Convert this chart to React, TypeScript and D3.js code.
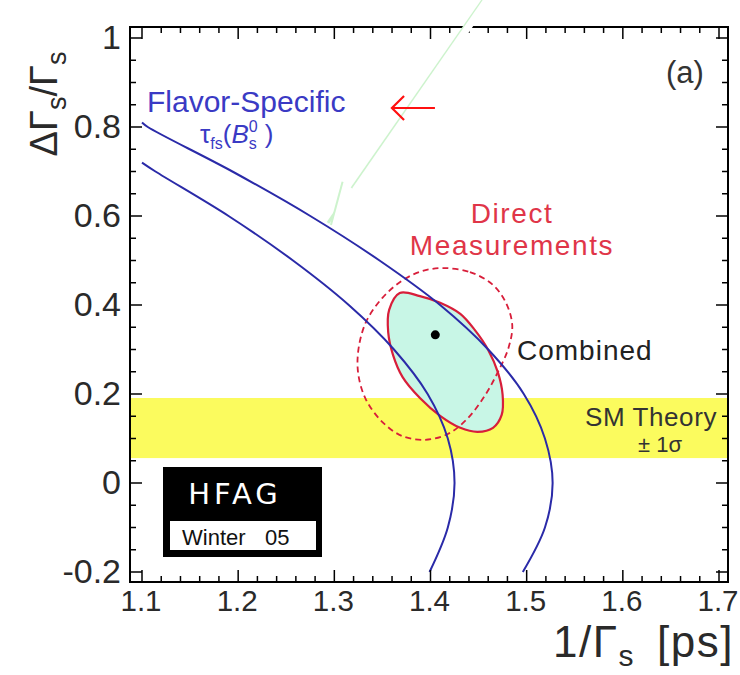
import React from "react";
import * as d3 from "d3";

const xTickValues = [1.1, 1.2, 1.3, 1.4, 1.5, 1.6, 1.7];
const xTickLabels = ["1.1", "1.2", "1.3", "1.4", "1.5", "1.6", "1.7"];
const yTickValues = [-0.2, 0, 0.2, 0.4, 0.6, 0.8, 1];
const yTickLabels = ["-0.2", "0", "0.2", "0.4", "0.6", "0.8", "1"];

// flavor-specific band edges: [1/Γs, ΔΓs/Γs]
const outerEdge: [number, number][] = [
  [1.1, 0.81], [1.106, 0.8], [1.194, 0.7], [1.275, 0.6], [1.347, 0.5], [1.41, 0.4],
  [1.46, 0.3], [1.497, 0.2], [1.519, 0.1], [1.527, 0], [1.519, -0.1], [1.496, -0.2],
];
const innerEdge: [number, number][] = [
  [1.1, 0.72], [1.114, 0.7], [1.19, 0.6], [1.257, 0.5], [1.315, 0.4], [1.362, 0.3],
  [1.397, 0.2], [1.418, 0.1], [1.425, 0], [1.418, -0.1], [1.399, -0.2],
];

// direct measurement contours
const directSolid: [number, number][] = [
  [1.368, 0.427], [1.389, 0.42], [1.41, 0.405], [1.431, 0.38], [1.446, 0.344], [1.46, 0.299],
  [1.47, 0.249], [1.475, 0.198], [1.474, 0.153], [1.465, 0.124], [1.449, 0.115], [1.431, 0.124],
  [1.41, 0.151], [1.389, 0.191], [1.371, 0.238], [1.361, 0.288], [1.356, 0.339], [1.357, 0.389],
];
const directDashed: [number, number][] = [
  [1.413, 0.483], [1.441, 0.474], [1.464, 0.447], [1.478, 0.407], [1.485, 0.355], [1.481, 0.303],
  [1.47, 0.249], [1.457, 0.198], [1.439, 0.146], [1.418, 0.11], [1.394, 0.097], [1.37, 0.106],
  [1.35, 0.137], [1.333, 0.187], [1.325, 0.243], [1.325, 0.299], [1.333, 0.362], [1.35, 0.416],
  [1.37, 0.454], [1.391, 0.476],
];
const combinedPoint: [number, number] = [1.405, 0.333];

// SM theory ±1σ band
const smBand: [number, number] = [0.056, 0.191];

const W = 740;
const H = 675;
const frame = { left: 130, right: 728, top: 27, bottom: 582 };

export default function App() {
  const x = d3.scaleLinear().domain([1.1, 1.7]).range([142, 719]);
  const y = d3.scaleLinear().domain([-0.2, 1]).range([572, 38]);

  const xMinor = d3.range(1.1, 1.705, 0.02).filter((v) => x(v) < frame.right - 2);
  const yMinor = d3.range(-0.2, 1.005, 0.05);

  const edge = d3
    .line<[number, number]>()
    .x((d) => x(d[0]))
    .y((d) => y(d[1]))
    .curve(d3.curveCatmullRom);
  const closed = d3
    .line<[number, number]>()
    .x((d) => x(d[0]))
    .y((d) => y(d[1]))
    .curve(d3.curveCatmullRomClosed);

  const font = "'Liberation Sans', Arial, sans-serif";
  const blue = "#2a2aa8";
  const red = "#d81e3a";

  // white annotation arrow (sits over the plot)
  const wa0 = [x(1.4586), y(1.085)];
  const wa1 = [x(1.2965), y(0.58)];
  const ang = Math.atan2(wa1[1] - wa0[1], wa1[0] - wa0[0]);
  const headLen = 42;
  const headW = 15;
  const hb = [wa1[0] - headLen * Math.cos(ang), wa1[1] - headLen * Math.sin(ang)];
  const px = -Math.sin(ang);
  const py = Math.cos(ang);
  const left = [hb[0] + px * headW, hb[1] + py * headW];
  const right = [hb[0] - px * headW, hb[1] - py * headW];

  const ra = y(0.8427);

  return (
    <svg width={W} height={H} style={{ position: "absolute", left: 0, top: 0, background: "#fff" }}>
      <defs>
        <clipPath id="plot">
          <rect x={frame.left} y={frame.top} width={frame.right - frame.left} height={frame.bottom - frame.top} />
        </clipPath>
      </defs>

      <g clipPath="url(#plot)">
        {/* SM band */}
        <rect
          x={frame.left}
          width={frame.right - frame.left}
          y={y(smBand[1])}
          height={y(smBand[0]) - y(smBand[1])}
          fill="#fbfb5e"
        />
        {/* combined region */}
        <path d={closed(directSolid) || ""} fill="#c8f6e6" stroke="none" />
        <path d={closed(directDashed) || ""} fill="none" stroke={red} strokeWidth={1.8} strokeDasharray="6,4" />
        <path d={closed(directSolid) || ""} fill="none" stroke={red} strokeWidth={2.2} />
        <path d={edge(outerEdge) || ""} fill="none" stroke={blue} strokeWidth={2} />
        <path d={edge(innerEdge) || ""} fill="none" stroke={blue} strokeWidth={2} />
        <circle cx={x(combinedPoint[0])} cy={y(combinedPoint[1])} r={4.5} fill="#000" />
      </g>

      {/* frame */}
      <rect
        x={frame.left}
        y={frame.top}
        width={frame.right - frame.left}
        height={frame.bottom - frame.top}
        fill="none"
        stroke="#000"
        strokeWidth={2}
      />

      {/* ticks, all sides inward */}
      {xMinor.map((v, i) => {
        const major = xTickValues.some((t) => Math.abs(t - v) < 1e-6);
        const len = major ? 12 : 6;
        return (
          <g key={"xm" + i} stroke="#000" strokeWidth={1.5}>
            <line x1={x(v)} x2={x(v)} y1={frame.bottom} y2={frame.bottom - len} />
            <line x1={x(v)} x2={x(v)} y1={frame.top} y2={frame.top + len} />
          </g>
        );
      })}
      {yMinor.map((v, i) => {
        const major = yTickValues.some((t) => Math.abs(t - v) < 1e-6);
        const len = major ? 12 : 6;
        return (
          <g key={"ym" + i} stroke="#000" strokeWidth={1.5}>
            <line x1={frame.left} x2={frame.left + len} y1={y(v)} y2={y(v)} />
            <line x1={frame.right} x2={frame.right - len} y1={y(v)} y2={y(v)} />
          </g>
        );
      })}

      {/* tick labels */}
      {xTickValues.map((v, i) => (
        <text
          key={"xl" + i}
          x={x(v) - 1}
          y={611}
          textAnchor="middle"
          fontFamily={font}
          fontSize={29.5}
          fill="#2a2a2a"
        >
          {xTickLabels[i]}
        </text>
      ))}
      {yTickValues.map((v, i) => (
        <text
          key={"yl" + i}
          x={121}
          y={y(v)}
          dy="0.33em"
          textAnchor="end"
          fontFamily={font}
          fontSize={34}
          fill="#2a2a2a"
        >
          {yTickLabels[i]}
        </text>
      ))}

      {/* axis titles */}
      <text x={553} y={657} fontFamily={font} fontSize={44} letterSpacing={1.5} fill="#2a2a2a">
        1/Γ<tspan fontSize={30} dy={9}>s</tspan>
        <tspan dx={22} dy={-9}>[ps]</tspan>
      </text>
      <text
        transform="translate(57,104) rotate(-90)"
        textAnchor="middle"
        fontFamily={font}
        fontSize={38}
        fill="#2a2a2a"
      >
        ΔΓ<tspan fontSize={27} dy={9}>s</tspan>
        <tspan dy={-9}>/Γ</tspan>
        <tspan fontSize={27} dy={9}>s</tspan>
      </text>

      {/* annotations */}
      <text x={685} y={83} textAnchor="middle" fontFamily={font} fontSize={31} fill="#333">
        (a)
      </text>
      <text x={147} y={112} fontFamily={font} fontSize={30} fill="#3a3ac4">
        Flavor-Specific
      </text>
      <text x={200} y={143} fontFamily={font} fontSize={26} fill="#3a3ac4">
        τ<tspan fontSize={16} dy={6}>fs</tspan>
        <tspan dy={-6}>(</tspan>
        <tspan fontStyle="italic">B</tspan>
        <tspan fontSize={16} dy={-11}>0</tspan>
        <tspan fontSize={16} dx={-9} dy={17}>s</tspan>
        <tspan dy={-6} dx={8}>)</tspan>
      </text>
      <text x={512} y={223} textAnchor="middle" fontFamily={font} fontSize={28} letterSpacing={1.6} fill="#e03548">
        Direct
      </text>
      <text x={512} y={255} textAnchor="middle" fontFamily={font} fontSize={28} letterSpacing={1.6} fill="#e03548">
        Measurements
      </text>
      <text x={517} y={360} fontFamily={font} fontSize={28} letterSpacing={1} fill="#222">
        Combined
      </text>
      <text x={651} y={426} textAnchor="middle" fontFamily={font} fontSize={26} letterSpacing={0.6} fill="#333">
        SM Theory
      </text>
      <text x={660} y={452} textAnchor="middle" fontFamily={font} fontSize={22} fill="#333">
        ± 1σ
      </text>

      {/* HFAG logo */}
      <rect x={163} y={467} width={159} height={90} fill="#000" />
      <rect x={170} y={521} width={146} height={29} fill="#fff" />
      <text
        x={235}
        y={504}
        textAnchor="middle"
        fontFamily="'DejaVu Sans', sans-serif"
        fontSize={29}
        letterSpacing={4}
        fill="#fff"
      >
        HFAG
      </text>
      <text x={182} y={545} fontFamily={font} fontSize={22} fill="#111">
        Winter
      </text>
      <text x={265} y={545} fontFamily={font} fontSize={22} fill="#111">
        05
      </text>

      {/* white overlay arrow with its pale green fringe */}
      <line x1={wa0[0] - 4} y1={wa0[1]} x2={wa1[0] - 3} y2={wa1[1] - 2} stroke="#cdf3cd" strokeWidth={3} />
      <line x1={wa0[0]} y1={wa0[1]} x2={hb[0]} y2={hb[1]} stroke="#fff" strokeWidth={7} />
      <polygon points={`${wa1[0]},${wa1[1]} ${left[0]},${left[1]} ${right[0]},${right[1]}`} fill="#fff" />
      <line x1={wa1[0]} y1={wa1[1]} x2={left[0]} y2={left[1]} stroke="#cdf3cd" strokeWidth={2} />

      {/* red arrow */}
      <g stroke="#ff1010" strokeWidth={2.2} fill="none">
        <line x1={x(1.4046)} x2={x(1.3599)} y1={ra} y2={ra} />
        <polyline points={`${x(1.3725)},${ra - 12} ${x(1.3599)},${ra} ${x(1.3725)},${ra + 12}`} />
      </g>
    </svg>
  );
}
